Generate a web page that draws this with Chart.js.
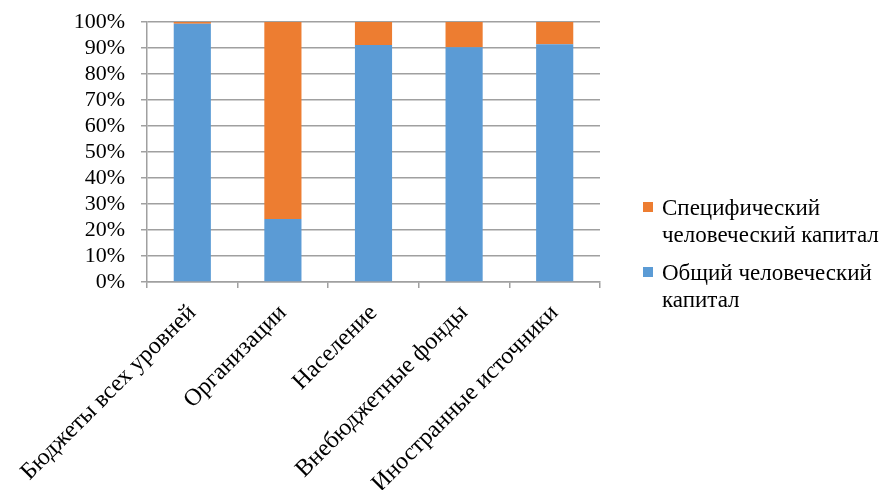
<!DOCTYPE html>
<html lang="ru">
<head>
  <meta charset="UTF-8">
  <title>Структура источников финансирования человеческого капитала</title>
  <script src="https://cdn.jsdelivr.net/npm/chart.js"></script>
  <style>
    body {
      margin: 0;
      padding: 0;
      background: #fff;
      font-family: "Liberation Serif", "Times New Roman", serif;
    }
    .wrap {
      position: relative;
      width: 892px;
      height: 490px;
    }
    .legend {
      position: absolute;
      left: 643px;
      top: 194px;
      width: 246px;
      font-size: 23px;
      line-height: 27px;
      color: #000;
    }
    .legend .item {
      position: relative;
      padding-left: 19px;
      margin-bottom: 11px;
    }
    .legend .box {
      position: absolute;
      left: 0;
      top: 8px;
      width: 10px;
      height: 10px;
    }
  </style>
</head>
<body>
  <div class="wrap">
    <canvas id="chart" width="892" height="490"></canvas>
    <div class="legend" id="legend"></div>
  </div>

  <script>
    const categories = ['Бюджеты всех уровней', 'Организации', 'Население', 'Внебюджетные фонды', 'Иностранные источники'];
    const generalCapital = [99.3, 24.2, 91.2, 90.3, 91.4];   // Общий человеческий капитал
    const specificCapital = [0.7, 75.8, 8.8, 9.7, 8.6];     // Специфический человеческий капитал
    const seriesNames = ['Общий человеческий капитал', 'Специфический человеческий капитал'];
    const seriesColors = ['#5b9bd5', '#ed7d31'];

    const family = '"Liberation Serif", "Times New Roman", serif';

    new Chart(document.getElementById('chart'), {
      type: 'bar',
      data: {
        labels: categories,
        datasets: [
          { label: seriesNames[0], data: generalCapital, backgroundColor: seriesColors[0] },
          { label: seriesNames[1], data: specificCapital, backgroundColor: seriesColors[1] }
        ]
      },
      options: {
        responsive: false,
        animation: false,
        layout: { padding: { top: 22, right: 292, left: 0, bottom: 0 } },
        plugins: {
          legend: { display: false },
          tooltip: { enabled: false }
        },
        datasets: {
          bar: { categoryPercentage: 1, barPercentage: 0.41 }
        },
        scales: {
          x: {
            stacked: true,
            grid: { drawOnChartArea: false, drawTicks: true, tickLength: 6, color: '#a0a0a0', lineWidth: 1.5 },
            border: { color: '#a0a0a0', width: 1.5 },
            ticks: { color: '#000', font: { family: family, size: 24 }, maxRotation: 45, minRotation: 45, padding: 11, autoSkip: false },
            afterFit: s => { s.height = 208; s.paddingLeft = 0; s.paddingRight = 0; }
          },
          y: {
            stacked: true,
            min: 0,
            max: 100,
            grid: { color: '#a0a0a0', lineWidth: 1.5, tickLength: 6 },
            border: { color: '#a0a0a0', width: 1.5 },
            ticks: { color: '#000', font: { family: family, size: 22 }, stepSize: 10, padding: 16, autoSkip: false, callback: v => v + '%' },
            afterFit: s => { s.width = 147; s.paddingTop = 0; s.paddingBottom = 0; }
          }
        }
      }
    });

    // legend: specific first, as in the original
    const legend = document.getElementById('legend');
    [1, 0].forEach(i => {
      const item = document.createElement('div');
      item.className = 'item';
      item.innerHTML = '<span class="box" style="background:' + seriesColors[i] + '"></span>' + seriesNames[i];
      legend.appendChild(item);
    });
  </script>
</body>
</html>
